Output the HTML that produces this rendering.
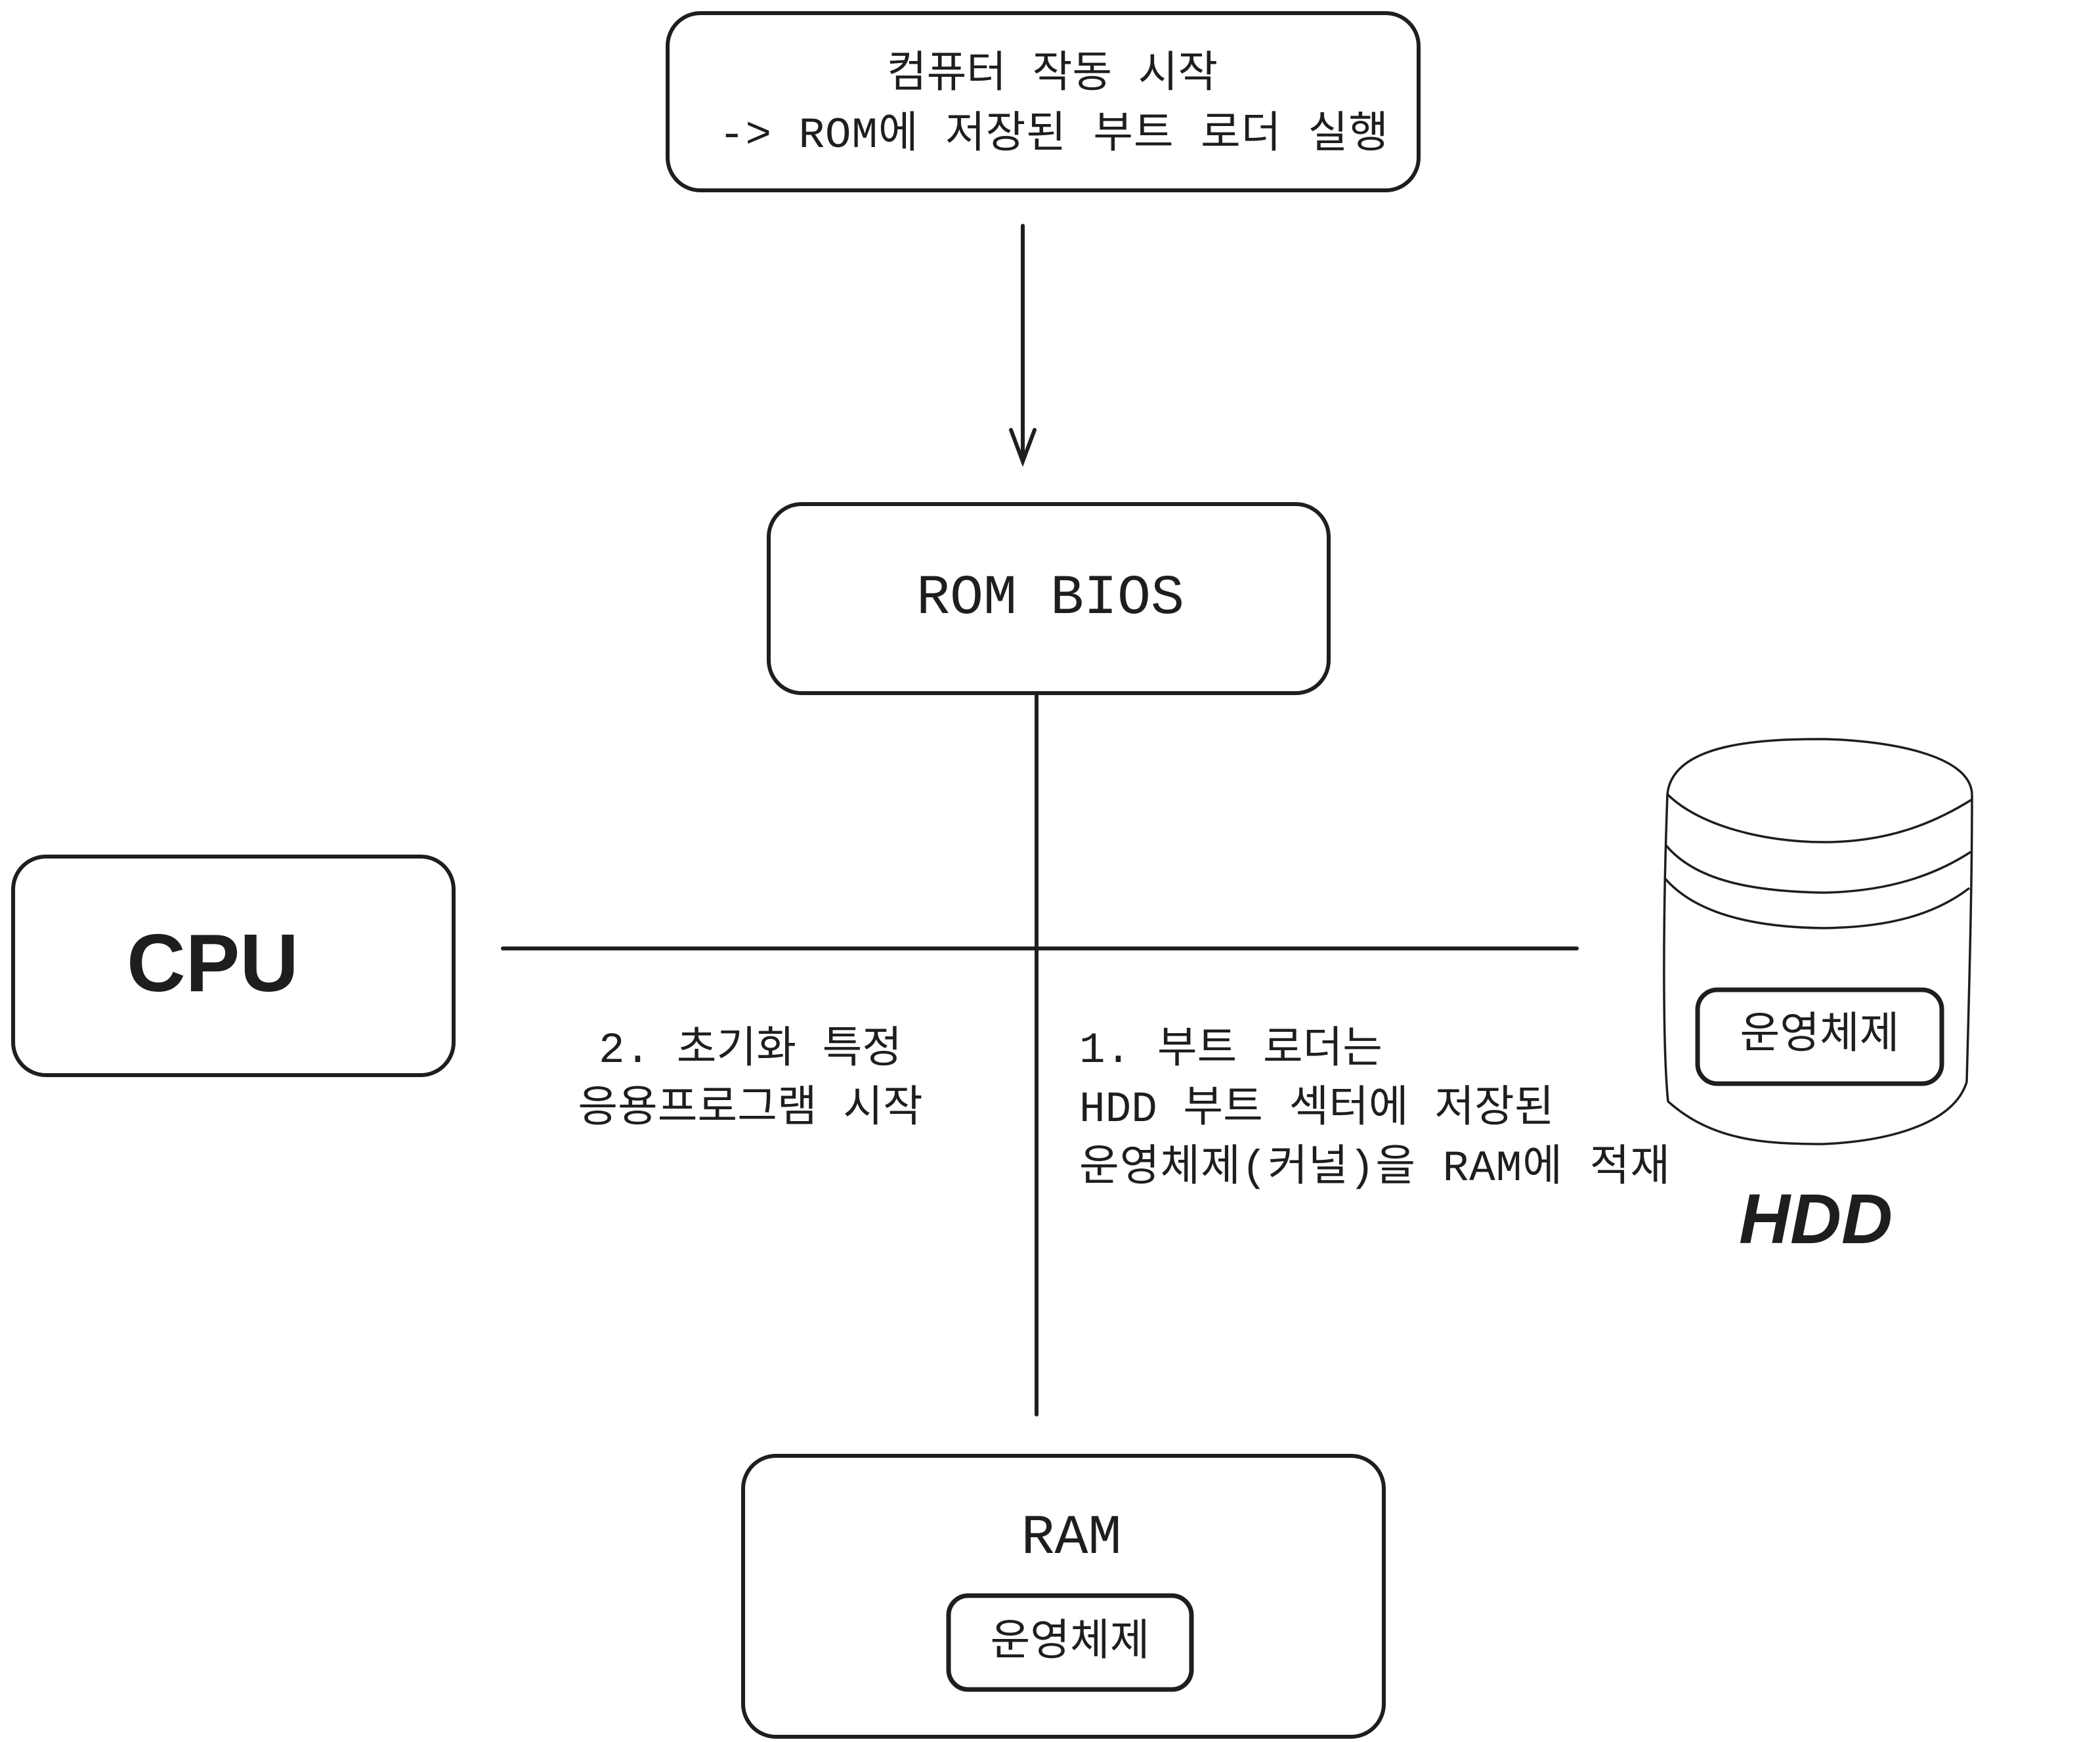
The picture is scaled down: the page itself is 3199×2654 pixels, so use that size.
<!DOCTYPE html>
<html><head><meta charset="utf-8"><style>
body{margin:0;width:3199px;height:2654px;background:#fff;overflow:hidden}
svg{position:absolute;left:0;top:0}
text{font-family:"Liberation Mono","Noto Sans CJK KR",monospace;fill:#1e1e1e}
</style></head><body>
<svg width="3199" height="2654" viewBox="0 0 3199 2654">
<g fill="none" stroke="#1e1e1e" stroke-width="6" stroke-linecap="round">
<rect x="1017" y="20" width="1144" height="270" rx="50"/>
<rect x="1171" y="768" width="853" height="288" rx="50"/>
<rect x="20" y="1305" width="671" height="333" rx="50"/>
<rect x="1132" y="2218" width="976" height="428" rx="50"/>
<rect x="1445" y="2431" width="370" height="143" rx="30" stroke-width="7"/>
<rect x="2586" y="1508" width="372" height="143" rx="30" stroke-width="7"/>
<line x1="1558" y1="344" x2="1558" y2="700"/>
<polyline points="1540,655 1558,703 1576,655"/>
<line x1="1579" y1="1058" x2="1579" y2="2155"/>
<line x1="766" y1="1445" x2="2402" y2="1445"/>
</g>
<g fill="none" stroke="#1e1e1e" stroke-width="3.5">
<path d="M2540 1210 C2548 1130 2690 1126 2778 1126 C2868 1128 3006 1148 3004 1213"/>
<path d="M2540 1210 C2588 1258 2688 1283 2778 1283 C2878 1283 2948 1253 3004 1218"/>
<path d="M2538 1288 C2588 1348 2688 1358 2778 1360 C2878 1358 2948 1333 3002 1298"/>
<path d="M2536 1338 C2588 1398 2688 1413 2778 1414 C2878 1413 2948 1393 3000 1353"/>
<path d="M2540 1210 C2533 1400 2533 1600 2541 1678 C2608 1738 2688 1743 2778 1743 C2888 1738 2978 1708 2996 1648 C3000 1498 3004 1348 3004 1213"/>
</g>
<g font-size="66">
<text x="1603" y="132" text-anchor="middle">컴퓨터 작동 시작</text>
<text x="1095" y="224" textLength="1020">-&gt; ROM에 저장된 부트 로더 실행</text>
<text x="1143" y="1618" text-anchor="middle">2. 초기화 특정</text>
<text x="1143" y="1708" text-anchor="middle">응용프로그램 시작</text>
<text x="1644" y="1618">1. 부트 로더는</text>
<text x="1644" y="1708">HDD 부트 섹터에 저장된</text>
<text x="1644" y="1798" textLength="900">운영체제(커널)을 RAM에 적재</text>
<text x="2772" y="1596" text-anchor="middle">운영체제</text>
<text x="1630" y="2521" text-anchor="middle">운영체제</text>
</g>
<text x="1600" y="934" font-size="85" text-anchor="middle">ROM BIOS</text>
<text x="324" y="1510" font-size="124" text-anchor="middle" style="font-family:'Liberation Sans',sans-serif;font-weight:bold">CPU</text>
<text x="2766" y="1894" font-size="108" text-anchor="middle" style="font-family:'Liberation Sans',sans-serif;font-weight:bold;font-style:italic">HDD</text>
<text x="1632" y="2366" font-size="85" text-anchor="middle">RAM</text>
</svg>
</body></html>
